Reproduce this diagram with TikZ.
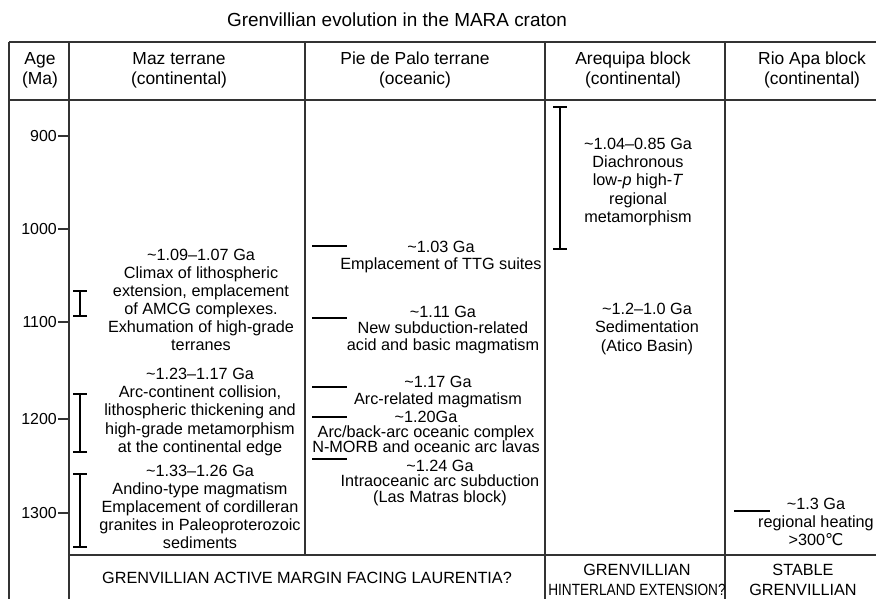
\documentclass[tikz,border=0pt]{standalone}
\usepackage{fontspec}
\setmainfont{Liberation Sans}
\newfontfamily\dejavu{DejaVu Sans}
\usetikzlibrary{arrows.meta}
\begin{document}
\begin{tikzpicture}[x=1bp,y=-1bp,
  grid/.style={line width=1.2bp, draw=black!80},
  ibar/.style={line width=2bp, {Bar[width=14bp]}-{Bar[width=14bp]}},
  evt/.style={line width=2.6bp},
  tick/.style={line width=1.2bp, draw=black!80},
  txt/.style={align=center, inner sep=0pt, font=\fontsize{16.3}{18.2}\selectfont},
  tight/.style={align=center, inner sep=0pt, font=\fontsize{16.3}{15.4}\selectfont},
  head/.style={align=center, inner sep=0pt, font=\fontsize{17.5}{20}\selectfont},
  agelab/.style={anchor=east, inner sep=0pt, font=\fontsize{16}{18}\selectfont}
]
\useasboundingbox (0,0) rectangle (876,599);

% title
\node[inner sep=0pt, font=\fontsize{19}{22}\selectfont] (title) at (397,20) {Grenvillian evolution in the MARA craton};

% grid
\draw[grid] (9,42) -- (876,42);
\draw[grid] (9,100) -- (876,100);
\draw[grid] (69,555) -- (876,555);
\draw[grid] (9,42) -- (9,599);
\draw[grid] (69,42) -- (69,599);
\draw[grid] (305,42) -- (305,555);
\draw[grid] (545,42) -- (545,599);
\draw[grid] (725,42) -- (725,599);

% headers
\node[head] (hage) at (40,70) {Age\\(Ma)};
\node[head] (hmaz) at (179,70) {Maz terrane\\(continental)};
\node[head] (hpie) at (415,70) {Pie de Palo terrane\\(oceanic)};
\node[head] (hare) at (633,70) {Arequipa block\\(continental)};
\node[head] (hrio) at (812,70) {Rio Apa block\\(continental)};

% age ticks
\foreach \a/\yy in {900/136,1000/229,1100/322,1200/419,1300/513}{
  \draw[tick] (58,\yy) -- (69,\yy);
  \node[agelab] (age\a) at (57,\yy) {\a};
}

% Maz terrane
\draw[ibar] (80,290) -- (80,317);
\draw[ibar] (80,393) -- (80,453);
\draw[ibar] (80,473) -- (80,548);
\node[txt] (maz1) at (201,300) {\textasciitilde1.09–1.07 Ga\\Climax of lithospheric\\extension, emplacement\\of AMCG complexes.\\Exhumation of high-grade\\terranes};
\node[txt] (maz2) at (200,412) {\textasciitilde1.23–1.17 Ga\\Arc-continent collision,\\lithospheric thickening and\\high-grade metamorphism\\at the continental edge};
\node[txt] (maz3) at (200,507) {\textasciitilde1.33–1.26 Ga\\Andino-type magmatism\\Emplacement of cordilleran\\granites in Paleoproterozoic\\sediments};

% Pie de Palo terrane
\draw[evt] (312,246) -- (347,246);
\draw[evt] (312,318) -- (347,318);
\draw[evt] (312,387) -- (347,387);
\draw[evt] (312,417) -- (347,417);
\draw[evt] (312,459) -- (347,459);
\node[txt, font=\fontsize{16.3}{17}\selectfont] (pie1) at (441,257) {\textasciitilde1.03 Ga\\Emplacement of TTG suites};
\node[txt, font=\fontsize{16.3}{17}\selectfont] (pie2) at (443,330) {\textasciitilde1.11 Ga\\New subduction-related\\acid and basic magmatism};
\node[txt, font=\fontsize{16.3}{16.5}\selectfont] (pie3) at (438,392) {\textasciitilde1.17 Ga\\Arc-related magmatism};
\node[tight] (pie4) at (426,432) {\textasciitilde1.20Ga\\Arc/back-arc oceanic complex\\N-MORB and oceanic arc lavas};
\node[tight] (pie5) at (440,483) {\textasciitilde1.24 Ga\\Intraoceanic arc subduction\\(Las Matras block)};

% Arequipa block
\draw[ibar] (560,106) -- (560,250);
\node[txt] (are1) at (638,182) {\textasciitilde1.04–0.85 Ga\\Diachronous\\low-\textit{p} high-\textit{T}\\regional\\metamorphism};
\node[txt] (are2) at (647,329) {\textasciitilde1.2–1.0 Ga\\Sedimentation\\(Atico Basin)};

% Rio Apa block
\draw[evt] (734,511) -- (770,511);
\node[txt] (rio1) at (816,522) {\textasciitilde1.3 Ga\\regional heating\\>300{\dejavu ℃}};

% footer
\node[txt] (f1) at (307,578) {GRENVILLIAN ACTIVE MARGIN FACING LAURENTIA?};
\node[txt, font=\fontsize{16.3}{20}\selectfont] (f2) at (637,580) {GRENVILLIAN\\\scalebox{0.84}[1]{HINTERLAND EXTENSION?}};
\node[txt, font=\fontsize{16.3}{20}\selectfont] (f3) at (803,580) {STABLE\\GRENVILLIAN};
\end{tikzpicture}
\end{document}
